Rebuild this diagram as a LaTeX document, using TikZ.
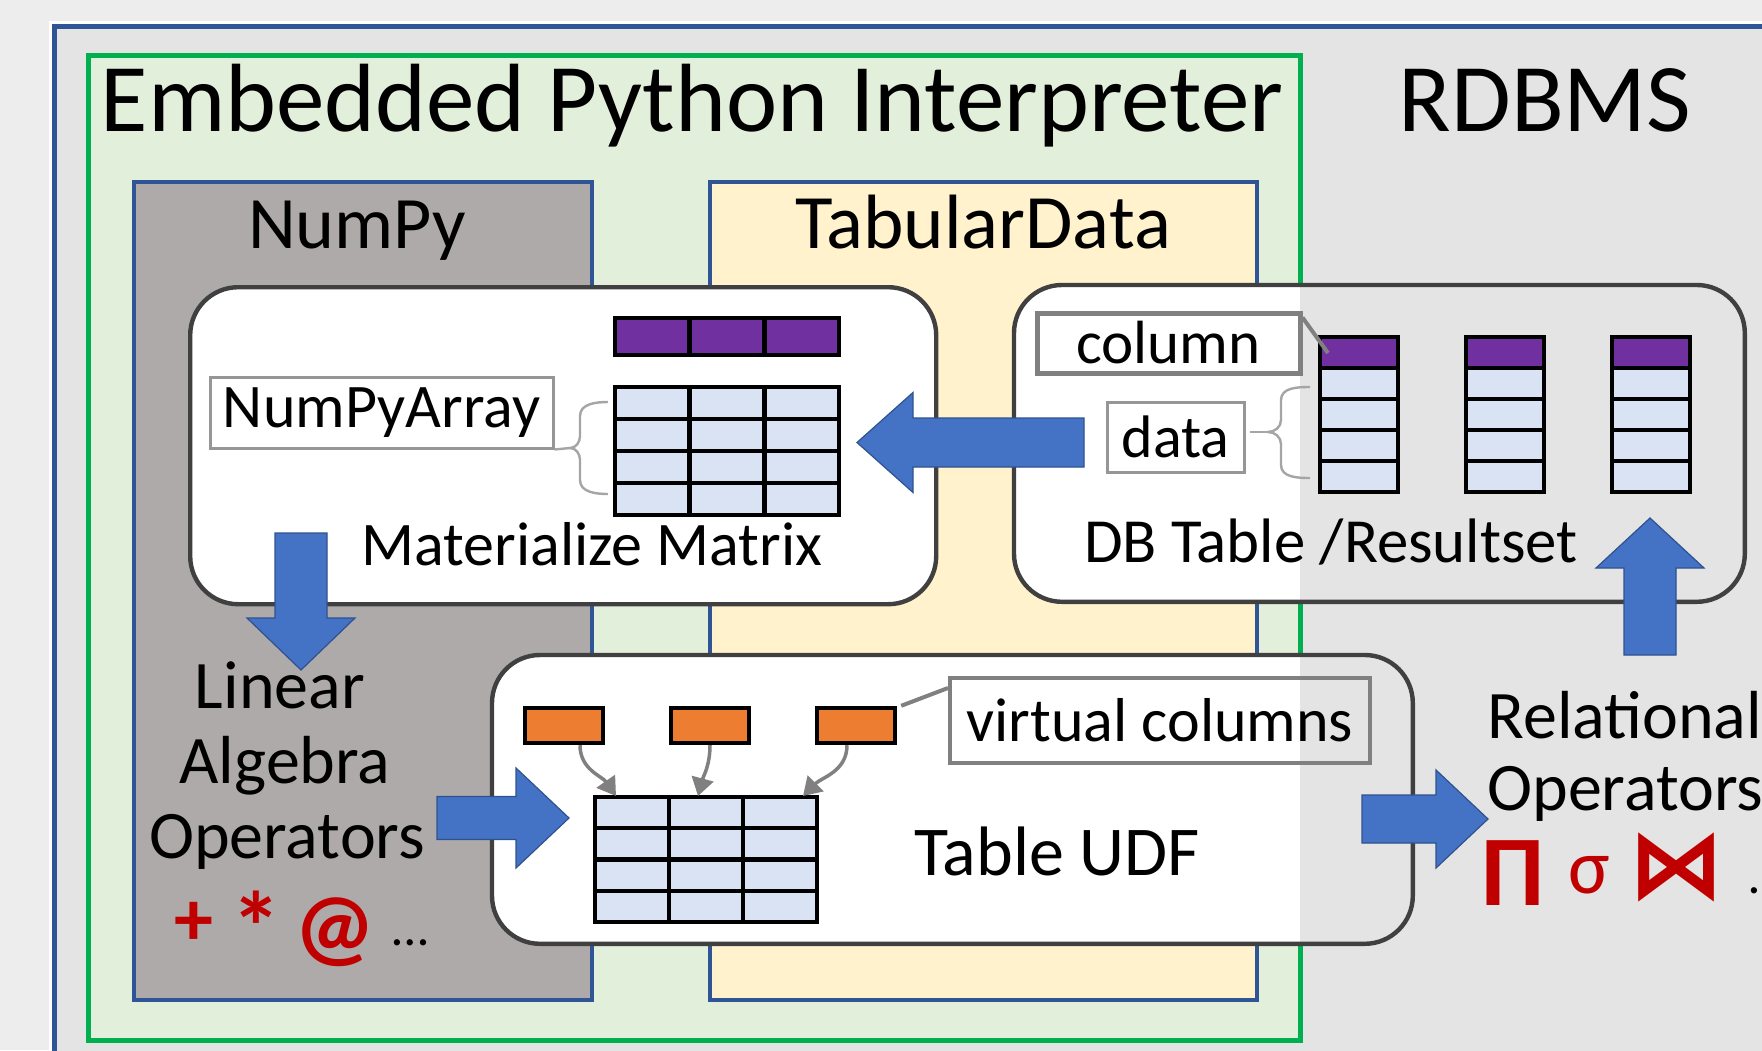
\documentclass[tikz,border=0pt]{standalone}
\usepackage{fontspec}
\setmainfont{Carlito}
\newfontfamily\symfont{DejaVu Sans}
\usetikzlibrary{arrows.meta}

\definecolor{outerbg}{RGB}{237,237,237}
\definecolor{rdbms}{RGB}{228,228,228}
\definecolor{frameblue}{RGB}{47,85,151}
\definecolor{pygreen}{RGB}{0,176,80}
\definecolor{pyfill}{RGB}{226,239,218}
\definecolor{npfill}{RGB}{174,170,170}
\definecolor{tdfill}{RGB}{255,242,204}
\definecolor{boxline}{RGB}{64,64,64}
\definecolor{arrowfill}{RGB}{68,114,196}
\definecolor{arrowline}{RGB}{47,82,143}
\definecolor{cellblue}{RGB}{218,227,243}
\definecolor{cellpurple}{RGB}{112,48,160}
\definecolor{cellorange}{RGB}{237,125,49}
\definecolor{labelgray}{RGB}{128,128,128}
\definecolor{lightlabel}{RGB}{150,150,150}
\definecolor{bracegray}{RGB}{165,165,165}
\definecolor{opred}{RGB}{192,0,0}

\newcommand{\cells}[7]{%
  \foreach \cc in {1,...,#3}{%
    \foreach \rr in {1,...,#4}{%
      \draw[cellline, fill=#7] ({#1+(\cc-1)*#5},{#2+(\rr-1)*#6}) rectangle ++(#5,#6);
    }}}

\newcommand{\blockarrow}[7]{%
  \draw[barrow, shift={(#1,#2)}, rotate=#3]
    (0,-#5) -- ({#4-#7},-#5) -- ({#4-#7},-#6) -- (#4,0) -- ({#4-#7},#6) -- ({#4-#7},#5) -- (0,#5) -- cycle;}

\begin{document}
\begin{tikzpicture}[x=0.5pt, y=-0.5pt,
  panel/.style={line width=2pt, inner sep=0pt, anchor=north west},
  rline/.style={draw=boxline, line width=2.2pt, rounded corners=24pt},
  cellline/.style={draw=black, line width=2.2pt},
  barrow/.style={fill=arrowfill, draw=arrowline, line width=0.6pt, line join=miter},
  lbl/.style={draw=labelgray, inner sep=0pt},
  varrow/.style={draw=labelgray, line width=1.75pt, -{Triangle[length=9pt,width=11pt]}},
  brace/.style={draw=bracegray, line width=1.2pt},
  lead/.style={draw=labelgray, line width=2pt},
  ocell/.style={draw=black, fill=cellorange, line width=2.2pt, inner sep=0pt, minimum width=39pt, minimum height=17.5pt},
  t31/.style={font=\fontsize{31pt}{37pt}\selectfont, inner sep=0pt},
  t34/.style={font=\fontsize{34pt}{40pt}\selectfont, inner sep=0pt},
  t37/.style={font=\fontsize{37pt}{44pt}\selectfont, inner sep=0pt},
  t48/.style={font=\fontsize{48.5pt}{58pt}\selectfont, inner sep=0pt},
  redop/.style={text=opred, inner sep=0pt}
]
\useasboundingbox (0,0) rectangle (1762,1050);
\clip (0,0) rectangle (1762,1050);
\fill[outerbg] (0,0) rectangle (1762,1050);
\draw[white, line width=1.5pt] (50.5,22.5) rectangle (1900,1200);
\filldraw[fill=rdbms, draw=frameblue, line width=2.5pt] (54.5,26) rectangle (1900,1200);

% Python interpreter region
\node[panel, fill=pyfill, draw=pygreen, line width=2.5pt, minimum width=606pt, minimum height=492.5pt] (py) at (86,52.5) {};
\node[panel, fill=npfill, draw=frameblue, minimum width=228.75pt, minimum height=409pt] (np) at (132,179.5) {};
\node[panel, fill=tdfill, draw=frameblue, minimum width=273.75pt, minimum height=409pt] (td) at (707.5,179.5) {};

\node[t48, anchor=base] (title) at (692,131) {Embedded Python Interpreter};
\node[t48, anchor=base] (rdbmslabel) at (1545,131) {RDBMS};
\node[t37, anchor=base] (nplabel) at (357,248) {NumPy};
\node[font=\fontsize{38.5pt}{46pt}\selectfont, inner sep=0pt, anchor=base] (tdlabel) at (983,248) {TabularData};

% rounded boxes
\node[fill=white, rounded corners=24pt, draw=boxline, line width=2.2pt, inner sep=0pt,
      minimum width=373pt, minimum height=158.5pt, anchor=north west] (mat) at (188,285) {};
\node[fill=white, rounded corners=24pt, inner sep=0pt,
      minimum width=365pt, minimum height=158pt, anchor=north west] (db) at (1014,285) {};
\node[fill=white, rounded corners=24pt, inner sep=0pt,
      minimum width=460pt, minimum height=144pt, anchor=north west] (udf) at (492,655) {};
\begin{scope}
  \clip[rounded corners=24pt] (db.north west) rectangle (db.south east);
  \fill[rdbms] (1300,0) rectangle (1800,1100);
\end{scope}
\begin{scope}
  \clip[rounded corners=24pt] (udf.north west) rectangle (udf.south east);
  \fill[rdbms] (1300,0) rectangle (1800,1100);
\end{scope}
\draw[rline] (db.north west) rectangle (db.south east);
\draw[rline] (udf.north west) rectangle (udf.south east);

% Materialize matrix contents
\cells{615}{318}{3}{1}{74.67}{37}{cellpurple}
\cells{615}{387}{3}{4}{74.67}{32}{cellblue}
\node[lbl, draw=lightlabel, line width=1.5pt, t31, minimum width=171.5pt, minimum height=35.5pt] (npa) at (381.5,412.5) {NumPyArray};
\coordinate (npatip) at (570,448);
\draw[brace] (npa.south east) -- (npatip);
\draw[brace] (608,402) to[out=180,in=90] (580,416) -- (580,436) to[out=270,in=0] (npatip)
  to[out=0,in=90] (580,460) -- (580,480) to[out=270,in=180] (608,494);
\node[t31, anchor=base] (matlabel) at (592,565) {Materialize Matrix};

% DB table contents
\cells{1320}{337}{1}{1}{78}{31}{cellpurple}
\cells{1320}{368}{1}{4}{78}{31}{cellblue}
\cells{1466}{337}{1}{1}{78}{31}{cellpurple}
\cells{1466}{368}{1}{4}{78}{31}{cellblue}
\cells{1612}{337}{1}{1}{78}{31}{cellpurple}
\cells{1612}{368}{1}{4}{78}{31}{cellblue}
\node[lbl, line width=2.5pt, font=\fontsize{30.5pt}{36pt}\selectfont, minimum width=131.5pt, minimum height=30pt] (col) at (1168.5,343) {column};
\coordinate (coltop) at (1328,353);
\draw[lead] ([yshift=-3.5pt]col.north east) -- (coltop);
\node[lbl, draw=lightlabel, line width=1.5pt, font=\fontsize{30pt}{36pt}\selectfont, minimum width=68.5pt, minimum height=35pt] (data) at (1175.5,437) {data};
\coordinate (datatip) at (1268,432);
\draw[brace] (1250,432) -- (datatip);
\draw[brace] (1310,387) to[out=180,in=90] (1281,400) -- (1281,420) to[out=270,in=0] (datatip)
  to[out=0,in=90] (1281,444) -- (1281,465) to[out=270,in=180] (1310,478);
\node[font=\fontsize{31.4pt}{37pt}\selectfont, inner sep=0pt, anchor=base] (dblabel) at (1331,562) {DB Table /Resultset};

% Table UDF contents
\node[ocell] (oc1) at (564,725.5) {};
\node[ocell] (oc2) at (710,725.5) {};
\node[ocell] (oc3) at (856,725.5) {};
\cells{595}{797}{3}{4}{74}{31.25}{cellblue}
\coordinate (t1) at (616,796);
\coordinate (t2) at (698,796);
\coordinate (t3) at (803,796);
\draw[varrow] ([xshift=8pt]oc1.south) to[out=270,in=125] (t1);
\draw[varrow] (oc2.south) to[out=270,in=75] (t2);
\draw[varrow] ([xshift=-4.5pt]oc3.south) to[out=270,in=45] (t3);
\node[lbl, line width=2pt, t31, minimum width=210pt, minimum height=42.5pt] (vc) at (1160,720.5) {virtual columns};
\draw[lead] ([yshift=-6pt]vc.north west) -- ([xshift=2pt]oc3.north east);
\node[font=\fontsize{35pt}{41pt}\selectfont, inner sep=0pt, anchor=base] (udflabel) at (1057,875) {Table UDF};

% operators
\node[t34, anchor=base] (la1) at (280,708) {Linear};
\node[t34, anchor=base] (la2) at (285,783) {Algebra};
\node[t34, anchor=base] (la3) at (287,858) {Operators};
\node[redop, anchor=base, font=\fontsize{39pt}{46pt}\selectfont\bfseries] (opplus) at (194,945) {+};
\node[redop, anchor=north, font=\fontsize{50pt}{58pt}\selectfont\bfseries] (opstar) at (256.5,891) {*};
\node[redop, anchor=north, font=\fontsize{45pt}{52pt}\selectfont\bfseries] (opat) at (335,897) {@};
\node[anchor=base, inner sep=0pt, font=\fontsize{26pt}{30pt}\selectfont] (opdots) at (410,945) {…};

\node[t34, anchor=base west] (rel1) at (1487,738) {Relational};
\node[t34, anchor=base west] (rel2) at (1487,810) {Operators};
\node[redop, anchor=base, font=\fontsize{50pt}{56pt}\selectfont\bfseries] (pi) at (1513,905) {Π};
\node[redop, anchor=base, font=\fontsize{39pt}{46pt}\selectfont] (sigma) at (1589.5,893) {σ};
\node[redop, anchor=base, font=\symfont\fontsize{48pt}{56pt}\selectfont\bfseries] (join) at (1676,897) {⋈};
\node[anchor=base west, inner sep=0pt, font=\fontsize{26pt}{30pt}\selectfont] (reldots) at (1749,893) {…};

% block arrows
\blockarrow{1084}{442.5}{180}{227}{24.5}{50}{56}
\blockarrow{301}{533}{-90}{137}{26}{54}{52}
\blockarrow{437}{818}{0}{132}{21.5}{50}{53}
\blockarrow{1362}{819}{0}{126}{24}{49}{52}
\blockarrow{1650}{655}{90}{137}{26}{54}{50}
\end{tikzpicture}
\end{document}
